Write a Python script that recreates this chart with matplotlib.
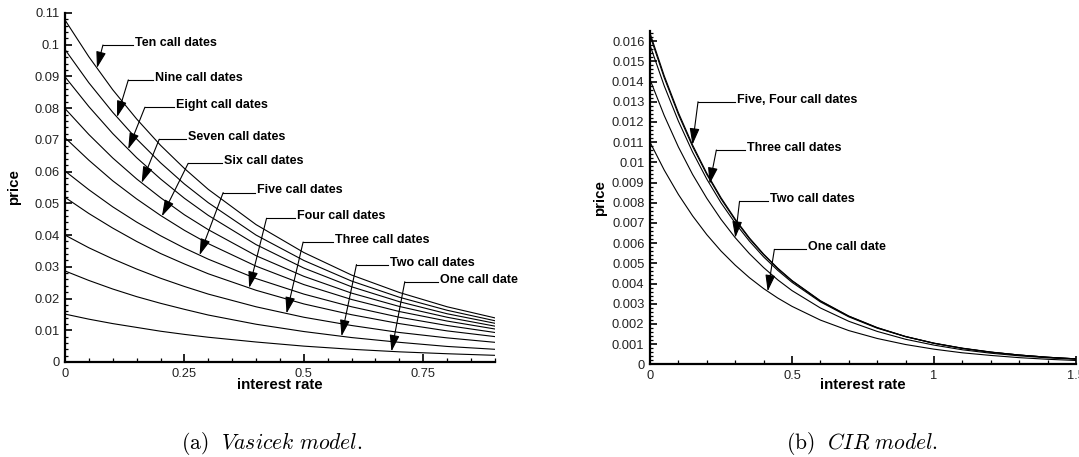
import numpy as np
import matplotlib.pyplot as plt
from matplotlib.ticker import MultipleLocator, FormatStrFormatter

plt.rcParams['font.family'] = ['Liberation Sans', 'DejaVu Sans']
plt.rcParams['mathtext.fontset'] = 'cm'

# Vasicek model, price against interest rate
vas_rate = [0.0, 0.05, 0.1, 0.15, 0.2, 0.25, 0.3, 0.4, 0.5, 0.6, 0.7, 0.8, 0.9]
vas_ten = [0.1078, 0.0962, 0.0858, 0.0766, 0.0683, 0.0610, 0.0544, 0.0433, 0.0345, 0.0274, 0.0219, 0.0174, 0.0139]
vas_nine = [0.0985, 0.0880, 0.0787, 0.0703, 0.0628, 0.0561, 0.0502, 0.0400, 0.0320, 0.0255, 0.0204, 0.0163, 0.0130]
vas_eight = [0.0899, 0.0805, 0.0720, 0.0644, 0.0577, 0.0516, 0.0462, 0.0370, 0.0296, 0.0237, 0.0190, 0.0152, 0.0122]
vas_seven = [0.0799, 0.0717, 0.0643, 0.0577, 0.0518, 0.0464, 0.0417, 0.0335, 0.0270, 0.0217, 0.0175, 0.0141, 0.0113]
vas_six = [0.0707, 0.0636, 0.0571, 0.0514, 0.0462, 0.0415, 0.0373, 0.0302, 0.0244, 0.0197, 0.0159, 0.0129, 0.0104]
vas_five = [0.0602, 0.0543, 0.0489, 0.0441, 0.0398, 0.0359, 0.0324, 0.0263, 0.0214, 0.0174, 0.0141, 0.0115, 0.0093]
vas_four = [0.0519, 0.0468, 0.0422, 0.0380, 0.0342, 0.0309, 0.0278, 0.0226, 0.0183, 0.0149, 0.0121, 0.0098, 0.0080]
vas_three = [0.0400, 0.0360, 0.0325, 0.0293, 0.0264, 0.0238, 0.0214, 0.0174, 0.0141, 0.0115, 0.0093, 0.0076, 0.0062]
vas_two = [0.0287, 0.0257, 0.0230, 0.0206, 0.0185, 0.0166, 0.0148, 0.0119, 0.0096, 0.0077, 0.0062, 0.0049, 0.0040]
vas_one = [0.0151, 0.0135, 0.0121, 0.0109, 0.0097, 0.0087, 0.0078, 0.0063, 0.0050, 0.0040, 0.0032, 0.0026, 0.0021]
vas_labels = ['Ten call dates', 'Nine call dates', 'Eight call dates', 'Seven call dates',
              'Six call dates', 'Five call dates', 'Four call dates', 'Three call dates',
              'Two call dates', 'One call date']

# CIR model, price against interest rate
cir_rate = [0.0, 0.05, 0.1, 0.15, 0.2, 0.25, 0.3, 0.35, 0.4, 0.45, 0.5,
            0.6, 0.7, 0.8, 0.9, 1.0, 1.1, 1.2, 1.3, 1.4, 1.5]
cir_five = [0.01640, 0.01429, 0.01246, 0.01086, 0.00946, 0.00825, 0.00719, 0.00626, 0.00546, 0.00476, 0.00415,
            0.00315, 0.00239, 0.00182, 0.00138, 0.00105, 0.00080, 0.00061, 0.00046, 0.00035, 0.00027]
cir_four = [0.01628, 0.01419, 0.01237, 0.01078, 0.00940, 0.00819, 0.00714, 0.00622, 0.00543, 0.00473, 0.00413,
            0.00313, 0.00238, 0.00181, 0.00137, 0.00104, 0.00079, 0.00060, 0.00046, 0.00035, 0.00027]
cir_three = [0.01580, 0.01379, 0.01204, 0.01051, 0.00917, 0.00800, 0.00699, 0.00610, 0.00532, 0.00465, 0.00406,
             0.00309, 0.00235, 0.00179, 0.00137, 0.00104, 0.00079, 0.00060, 0.00046, 0.00035, 0.00027]
cir_two = [0.01410, 0.01232, 0.01076, 0.00940, 0.00822, 0.00718, 0.00627, 0.00548, 0.00479, 0.00418, 0.00365,
           0.00279, 0.00213, 0.00163, 0.00124, 0.00095, 0.00072, 0.00055, 0.00042, 0.00032, 0.00025]
cir_one = [0.01100, 0.00962, 0.00841, 0.00735, 0.00642, 0.00561, 0.00491, 0.00429, 0.00375, 0.00328, 0.00287,
           0.00219, 0.00167, 0.00128, 0.00098, 0.00075, 0.00057, 0.00044, 0.00033, 0.00025, 0.00019]
cir_labels = ['Five, Four call dates', 'Three call dates', 'Two call dates', 'One call date']


def main():
    fig = plt.figure(figsize=(10.79, 4.57), dpi=100)

    ax1 = fig.add_axes([0.0602, 0.2079, 0.3985, 0.7637])
    vas = [vas_ten, vas_nine, vas_eight, vas_seven, vas_six,
           vas_five, vas_four, vas_three, vas_two, vas_one]
    setup_axes(ax1, 0.9, 0.11, 0.25, 0.05, 0.01, 0.002, -0.066)
    for c in vas:
        ax1.plot(vas_rate, c, color='k', lw=0.8)

    # (tip x, corner x, text x, text y)
    vas_place = [(0.067, 0.0795, 0.1423, 0.0999),
                 (0.109, 0.1326, 0.1847, 0.0889),
                 (0.1324, 0.1674, 0.2280, 0.0803),
                 (0.1605, 0.1973, 0.2531, 0.0702),
                 (0.2029, 0.2579, 0.3278, 0.0626),
                 (0.2818, 0.3312, 0.3975, 0.0534),
                 (0.3856, 0.4220, 0.4812, 0.0453),
                 (0.4638, 0.4985, 0.5613, 0.0378),
                 (0.5789, 0.6102, 0.6764, 0.0307),
                 (0.6835, 0.7113, 0.7810, 0.0253)]
    for lab, c, p in zip(vas_labels, vas, vas_place):
        callout(ax1, lab, vas_rate, c, *p)

    ax2 = fig.add_axes([0.6024, 0.2028, 0.3948, 0.7293])
    cir = [cir_five, cir_four, cir_three, cir_two, cir_one]
    setup_axes(ax2, 1.5, 0.0165, 0.5, 0.1, 0.001, 0.0002, -0.062)
    for c in cir:
        ax2.plot(cir_rate, c, color='k', lw=0.8)

    cir_place = [(0.1496, 0.1692, 0.2978, 0.01300),
                 (0.2102, 0.2337, 0.3329, 0.01061),
                 (0.3003, 0.3153, 0.4170, 0.00807),
                 (0.4145, 0.4380, 0.5491, 0.00569)]
    cir_marked = [cir_five, cir_three, cir_two, cir_one]
    for lab, c, p in zip(cir_labels, cir_marked, cir_place):
        callout(ax2, lab, cir_rate, c, *p)

    fig.text(0.2518, 0.030, r'$\mathrm{(a)}\ \ \mathit{Vasicek\ model.}$',
             ha='center', va='center', fontsize=15.5)
    fig.text(0.7986, 0.030, r'$\mathrm{(b)}\ \ \mathit{CIR\ model.}$',
             ha='center', va='center', fontsize=15.5)

    fig.savefig('out.png', dpi=100)


def setup_axes(ax, xmax, ymax, xmaj, xmin, ymaj, ymin, xlab_y):
    ax.set_xlim(0, xmax)
    ax.set_ylim(0, ymax)
    ax.spines['top'].set_visible(False)
    ax.spines['right'].set_visible(False)
    ax.spines['left'].set_linewidth(1.6)
    ax.spines['bottom'].set_linewidth(1.6)
    ax.xaxis.set_major_locator(MultipleLocator(xmaj))
    ax.xaxis.set_minor_locator(MultipleLocator(xmin))
    ax.yaxis.set_major_locator(MultipleLocator(ymaj))
    ax.yaxis.set_minor_locator(MultipleLocator(ymin))
    ax.xaxis.set_major_formatter(FormatStrFormatter('%g'))
    ax.yaxis.set_major_formatter(FormatStrFormatter('%g'))
    ax.tick_params(which='both', direction='in', labelsize=9.3, labelcolor='#222222', pad=4)
    ax.tick_params(axis='x', which='major', length=6, width=1.2)
    ax.tick_params(axis='x', which='minor', length=3.2, width=0.9)
    ax.tick_params(axis='y', which='major', length=5, width=1.2)
    ax.tick_params(axis='y', which='minor', length=2.5, width=0.9)
    ax.set_xlabel('interest rate', fontsize=10.8, fontweight='bold')
    ax.set_ylabel('price', fontsize=10.8, fontweight='bold')
    ax.xaxis.set_label_coords(0.5, xlab_y)
    ax.xaxis.label.set_va('center')
    ax.yaxis.set_label_coords(-0.118, 0.5)
    ax.yaxis.label.set_va('center')


def callout(ax, text, cx, cy, tip_x, corner_x, text_x, text_y):
    tip_y = np.interp(tip_x, cx, cy)
    ax.plot([corner_x, text_x], [text_y, text_y], color='k', lw=0.8)
    ax.annotate('', xy=(tip_x, tip_y), xytext=(corner_x, text_y),
                arrowprops=dict(arrowstyle='-|>,head_length=1.0,head_width=0.3',
                                mutation_scale=10, color='k', lw=0.8,
                                shrinkA=0, shrinkB=0))
    ax.annotate(text, xy=(text_x, text_y), xytext=(1.5, 1.5), textcoords='offset points',
                ha='left', va='center', fontsize=9, fontweight='bold')


if __name__ == '__main__':
    main()
